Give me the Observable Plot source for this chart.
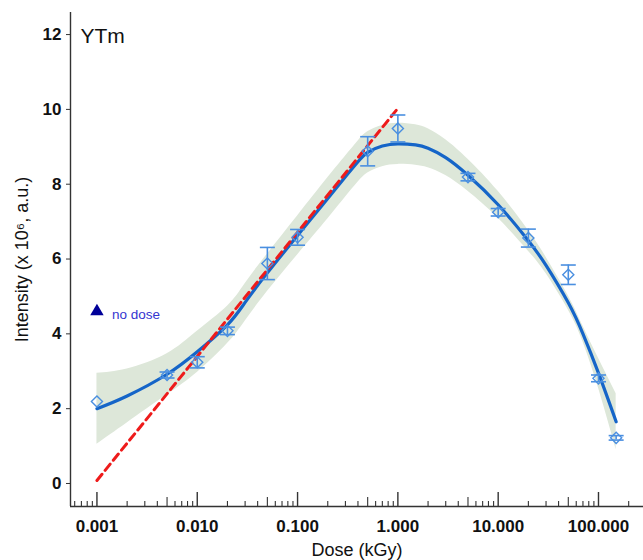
<!DOCTYPE html>
<html>
<head>
<meta charset="utf-8">
<script src="https://cdn.jsdelivr.net/npm/d3@7"></script>
<script src="https://cdn.jsdelivr.net/npm/@observablehq/plot@0.6"></script>
<style>
  html, body { margin: 0; padding: 0; background: #fff; }
  #chart { width: 643px; height: 560px; }
</style>
</head>
<body>
<div id="chart"></div>
<script>
// ---- data ----
const panelLabel = "YTm";
const xTitle = "Dose (kGy)";
const yTitle = "Intensity (x 10\u2076, a.u.)";

// measured points
const pointDose = [0.001, 0.005, 0.01, 0.02, 0.05, 0.1, 0.5, 1, 5, 10, 20, 50, 100, 150];
const pointMean = [2.19, 2.90, 3.24, 4.08, 5.88, 6.58, 8.88, 9.49, 8.19, 7.25, 6.56, 5.58, 2.81, 1.22];
const pointErr  = [0, 0.08, 0.15, 0.10, 0.43, 0.21, 0.39, 0.36, 0.10, 0.10, 0.24, 0.26, 0.09, 0.06];

// fitted curve with confidence band
const fitDose  = [0.001, 0.002, 0.005, 0.01, 0.02, 0.03, 0.05, 0.1, 0.2, 0.3, 0.4, 0.5, 0.7, 1, 1.5, 2, 3, 5, 10, 20, 30, 50, 70, 100, 150];
const fitValue = [2.00, 2.34, 2.92, 3.52, 4.24, 4.84, 5.63, 6.63, 7.62, 8.20, 8.60, 8.85, 9.02, 9.08, 9.05, 8.96, 8.71, 8.24, 7.45, 6.49, 5.83, 4.83, 4.00, 2.95, 1.65];
const fitLower = [1.05, 1.62, 2.37, 2.97, 3.74, 4.34, 5.13, 6.11, 7.07, 7.65, 8.05, 8.30, 8.47, 8.53, 8.51, 8.44, 8.23, 7.81, 7.09, 6.21, 5.61, 4.64, 3.79, 2.55, 0.90];
const fitUpper = [2.95, 3.06, 3.47, 4.07, 4.74, 5.34, 6.13, 7.15, 8.17, 8.75, 9.15, 9.40, 9.57, 9.63, 9.59, 9.48, 9.19, 8.67, 7.81, 6.77, 6.05, 5.02, 4.21, 3.35, 2.40];

// linear (in log dose) reference line
const linDose  = [0.001, 1];
const linValue = [0.08, 10.03];

// "no dose" marker
const noDoseDose = [0.001];
const noDoseValue = [4.6];
const noDoseLabel = ["no dose"];

// axes
const xTickValues = [0.001, 0.01, 0.1, 1, 10, 100];
const xTickLabels = ["0.001", "0.010", "0.100", "1.000", "10.000", "100.000"];
const xMidTicks = [0.005, 0.05, 0.5, 5, 50];
const xMinorTicks = [0.0006, 0.0007, 0.0008, 0.0009,
  0.002, 0.003, 0.004, 0.006, 0.007, 0.008, 0.009,
  0.02, 0.03, 0.04, 0.06, 0.07, 0.08, 0.09,
  0.2, 0.3, 0.4, 0.6, 0.7, 0.8, 0.9,
  2, 3, 4, 6, 7, 8, 9,
  20, 30, 40, 60, 70, 80, 90,
  200];
const yTickValues = [0, 2, 4, 6, 8, 10, 12];
const xDomain = [0.000545, 281];
const yDomain = [-0.615, 12.59];

// ---- tables ----
const points = pointDose.map((d, i) => ({dose: d, mean: pointMean[i], err: pointErr[i]}));
const bars = points.filter(d => d.err > 0);
const fit = fitDose.map((d, i) => ({dose: d, fit: fitValue[i], lo: fitLower[i], hi: fitUpper[i]}));
const lin = linDose.map((d, i) => ({dose: d, v: linValue[i]}));
const noDose = noDoseDose.map((d, i) => ({dose: d, v: noDoseValue[i], label: noDoseLabel[i]}));

const capSymbol = { draw(ctx) { ctx.moveTo(-7.5, 0); ctx.lineTo(7.5, 0); } };

const W = 643, H = 560, mT = 12, mB = 54, mL = 70;
const innerH = H - mT - mB;
const axisColor = "#333333";
const ptColor = "#4a8fe0";

const chart = Plot.plot({
  width: W, height: H,
  marginLeft: mL, marginRight: 0, marginTop: mT, marginBottom: mB,
  x: {type: "log", domain: xDomain},
  y: {domain: yDomain},
  style: {fontFamily: "'Liberation Sans', Arial, Helvetica, sans-serif", background: "#fff", color: "#111"},
  marks: [
    Plot.areaY(fit, {x: "dose", y1: "lo", y2: "hi", fill: "#dde7d9", curve: "natural"}),
    Plot.lineY(fit, {x: "dose", y: "fit", stroke: "#1565c8", strokeWidth: 3.2, curve: "natural"}),
    Plot.lineY(lin, {x: "dose", y: "v", stroke: "#ee1b1b", strokeWidth: 3, strokeDasharray: "8,5"}),
    Plot.ruleX(bars, {x: "dose", y1: d => d.mean - d.err, y2: d => d.mean + d.err, stroke: ptColor, strokeWidth: 1.6}),
    Plot.dot(bars, {x: "dose", y: d => d.mean - d.err, symbol: capSymbol, stroke: ptColor, strokeWidth: 1.6, r: 5}),
    Plot.dot(bars, {x: "dose", y: d => d.mean + d.err, symbol: capSymbol, stroke: ptColor, strokeWidth: 1.6, r: 5}),
    Plot.dot(points, {x: "dose", y: "mean", symbol: "diamond2", r: 5, stroke: ptColor, strokeWidth: 1.4, fill: "none"}),
    // no dose marker
    Plot.dot(noDose, {x: "dose", y: "v", symbol: "triangle", r: 5, fill: "#000099", stroke: "none"}),
    Plot.text(noDose, {x: "dose", y: "v", text: "label", textAnchor: "start", dx: 15, dy: 3, fill: "#3535d0", fontSize: 13.5}),
    // axis lines
    Plot.ruleY([yDomain[0]], {stroke: axisColor, strokeWidth: 1.4}),
    Plot.ruleX([xDomain[0]], {stroke: axisColor, strokeWidth: 1.4}),
    // log ticks pointing inward
    Plot.ruleX(xTickValues, {stroke: axisColor, strokeWidth: 1.4, insetTop: innerH - 14}),
    Plot.ruleX(xMidTicks, {stroke: axisColor, strokeWidth: 1.1, insetTop: innerH - 9}),
    Plot.ruleX(xMinorTicks, {stroke: axisColor, strokeWidth: 1.1, insetTop: innerH - 5}),
    Plot.axisX({ticks: xTickValues, tickFormat: (d) => xTickLabels[xTickValues.indexOf(d)] ?? "", tickSize: 0, tickPadding: 13, fontSize: 17, fontWeight: "bold", label: null, fill: "#111"}),
    Plot.axisY({ticks: yTickValues, tickSize: 4, tickPadding: 5, fontSize: 17, fontWeight: "bold", label: null, stroke: axisColor, fill: "#111"}),
    // titles
    Plot.text([xTitle], {frameAnchor: "bottom", lineAnchor: "middle", textAnchor: "middle", dy: 44, fontSize: 18, fill: "#111"}),
    Plot.text([yTitle], {frameAnchor: "left", lineAnchor: "middle", textAnchor: "middle", rotate: -90, dx: -48, fontSize: 18, fill: "#111"}),
    Plot.text([panelLabel], {frameAnchor: "top-left", lineAnchor: "middle", textAnchor: "start", dx: 10, dy: 24, fontSize: 21, fill: "#111"})
  ]
});
document.getElementById("chart").appendChild(chart);
</script>
</body>
</html>
